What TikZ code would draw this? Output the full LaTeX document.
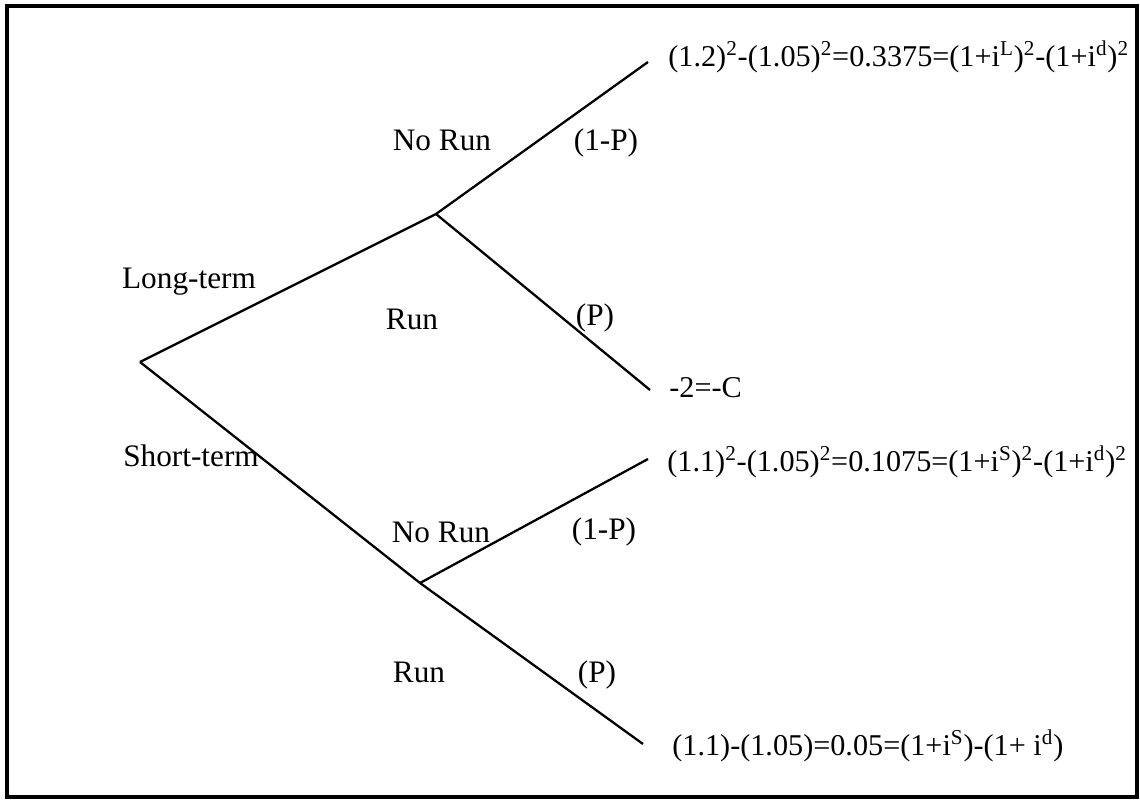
\documentclass[tikz,border=0pt]{standalone}
\usepackage{fontspec}
\setmainfont{Liberation Serif}
\usetikzlibrary{positioning}

\begin{document}
\begin{tikzpicture}[x=0.02cm,y=-0.02cm]
	 \tikzstyle{branch} = [-,black,line width=1.3pt]
	 \tikzstyle{label} = [inner sep=0pt,font=\fontsize{17.8}{21}\selectfont]
	 \tikzstyle{payoff} = [label,anchor=west,font=\fontsize{17.2}{21}\selectfont]

	 \useasboundingbox (0,0) rectangle (1140,800);
	 \draw[line width=1.8pt] (7,6) rectangle (1137,797);

	 % decision points
	 \coordinate (root) at (140,362);
	 \coordinate (long) at (436,214);
	 \coordinate (short) at (420,583);
	 % branch ends
	 \coordinate (e1) at (648,62);
	 \coordinate (e2) at (650,390);
	 \coordinate (e3) at (648,459);
	 \coordinate (e4) at (643,744);

	 \draw[branch] (root) -- (long);
	 \draw[branch] (root) -- (short);
	 \draw[branch] (long) -- (e1);
	 \draw[branch] (long) -- (e2);
	 \draw[branch] (short) -- (e3);
	 \draw[branch] (short) -- (e4);

	 \node[label] (lt) at (189,282) {Long-term};
	 \node[label] (st) at (191,456) {Short-term};
	 \node[label] (nr1) at (442,140) {No Run};
	 \node[label] (p1) at (606,143) {(1-P)};
	 \node[label] (r1) at (412,319) {Run};
	 \node[label] (q1) at (595,318) {(P)};
	 \node[label] (nr2) at (441,532) {No Run};
	 \node[label] (p2) at (604,532) {(1-P)};
	 \node[label] (r2) at (419,672) {Run};
	 \node[label] (q2) at (597,675) {(P)};

	 \node[payoff] (v1) at (668,57) {(1.2)\textsuperscript{2}-(1.05)\textsuperscript{2}=0.3375=(1+i\textsuperscript{L})\textsuperscript{2}-(1+i\textsuperscript{d})\textsuperscript{2}};
	 \node[payoff] (v2) at (669,388) {-2=-C};
	 \node[payoff] (v3) at (667,462) {(1.1)\textsuperscript{2}-(1.05)\textsuperscript{2}=0.1075=(1+i\textsuperscript{S})\textsuperscript{2}-(1+i\textsuperscript{d})\textsuperscript{2}};
	 \node[payoff] (v4) at (672,746) {(1.1)-(1.05)=0.05=(1+i\textsuperscript{S})-(1+ i\textsuperscript{d})};
\end{tikzpicture}
\end{document}
